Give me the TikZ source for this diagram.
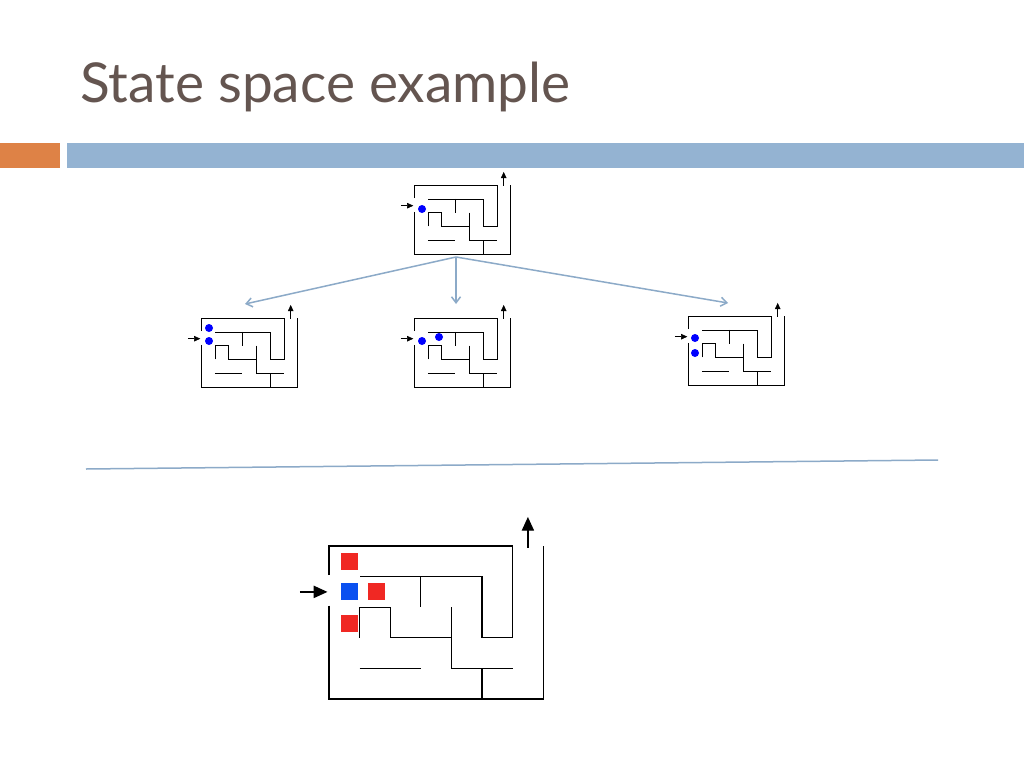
\documentclass[tikz,border=0pt]{standalone}
\usepackage{fontspec}
\setmainfont{Lato}
\usetikzlibrary{arrows.meta}
\definecolor{titlec}{RGB}{100,85,80}
\definecolor{barblue}{RGB}{148,179,210}
\definecolor{barorange}{RGB}{222,130,70}
\definecolor{arr}{RGB}{140,170,200}
\definecolor{sqred}{RGB}{240,40,35}
\definecolor{sqblue}{RGB}{10,80,240}
\newcommand\mymaze[4]{%
\begin{scope}[shift={(#1,#2)},x=#3pt,y=-#3pt,line width=#4]
\draw (0,0.95)--(0,0)--(6,0)--(6,3)--(5,3)--(5,1)--(1,1);
\draw (0,1.95)--(0,5)--(7,5)--(7,0);
\draw (3,1)--(3,2);
\draw (1,3)--(1,2)--(2,2)--(2,3)--(4,3);
\draw (4,2)--(4,4)--(6,4);
\draw (1,4)--(3,4);
\draw (5,4)--(5,5);
\draw[-{Triangle[length=#3*0.45pt,width=#3*0.4pt]}] (6.5,0.05)--(6.5,-0.95);
\draw[-{Triangle[length=#3*0.45pt,width=#3*0.4pt]}] (-0.95,1.5)--(-0.05,1.5);
\end{scope}}
\begin{document}
\begin{tikzpicture}[x=1pt,y=-1pt,
  dot/.style={circle,fill=blue,inner sep=0pt,minimum size=8pt},
  sq/.style={inner sep=0pt,minimum size=17pt},
  link/.style={arr,line width=1.5pt,-{Straight Barb[length=6pt,width=9pt]}}]
\useasboundingbox (0,0) rectangle (1024,768);
\fill[white] (0,0) rectangle (1024,768);
\node[anchor=base west,text=titlec,font=\fontsize{55}{60}\selectfont,inner sep=0pt] (title) at (80,102) {State space example};
\fill[barorange] (0,143) rectangle (60,168);
\fill[barblue] (67,143) rectangle (1024,168);
% small mazes
\mymaze{414}{185}{13.8}{0.6pt}
\mymaze{201}{318}{13.8}{0.6pt}
\mymaze{414}{318}{13.8}{0.6pt}
\mymaze{688}{316}{13.8}{0.6pt}
\node[dot] (d0) at (422,209) {};
\node[dot] (d1) at (209,328) {};
\node[dot] (d2) at (209,341) {};
\node[dot] (d3) at (422,341) {};
\node[dot] (d4) at (439,337) {};
\node[dot] (d5) at (695,338) {};
\node[dot] (d6) at (695,353) {};
\coordinate (src) at (456,257);
\coordinate (t1) at (245,304);
\coordinate (t2) at (456,304);
\coordinate (t3) at (728,303);
\draw[link] (src)--(t1);
\draw[link] (src)--(t2);
\draw[link] (src)--(t3);
\coordinate (s1) at (86,469);
\coordinate (s2) at (938,460);
\draw[arr,line width=1.5pt] (s1)--(s2);
% big maze
\mymaze{329}{546}{30.6}{1.3pt}
\node[sq,fill=sqred] (r1) at (349,561) {};
\node[sq,fill=sqblue] (b) at (349,591) {};
\node[sq,fill=sqred] (r2) at (376,591) {};
\node[sq,fill=sqred] (r3) at (349,623) {};
\end{tikzpicture}
\end{document}
